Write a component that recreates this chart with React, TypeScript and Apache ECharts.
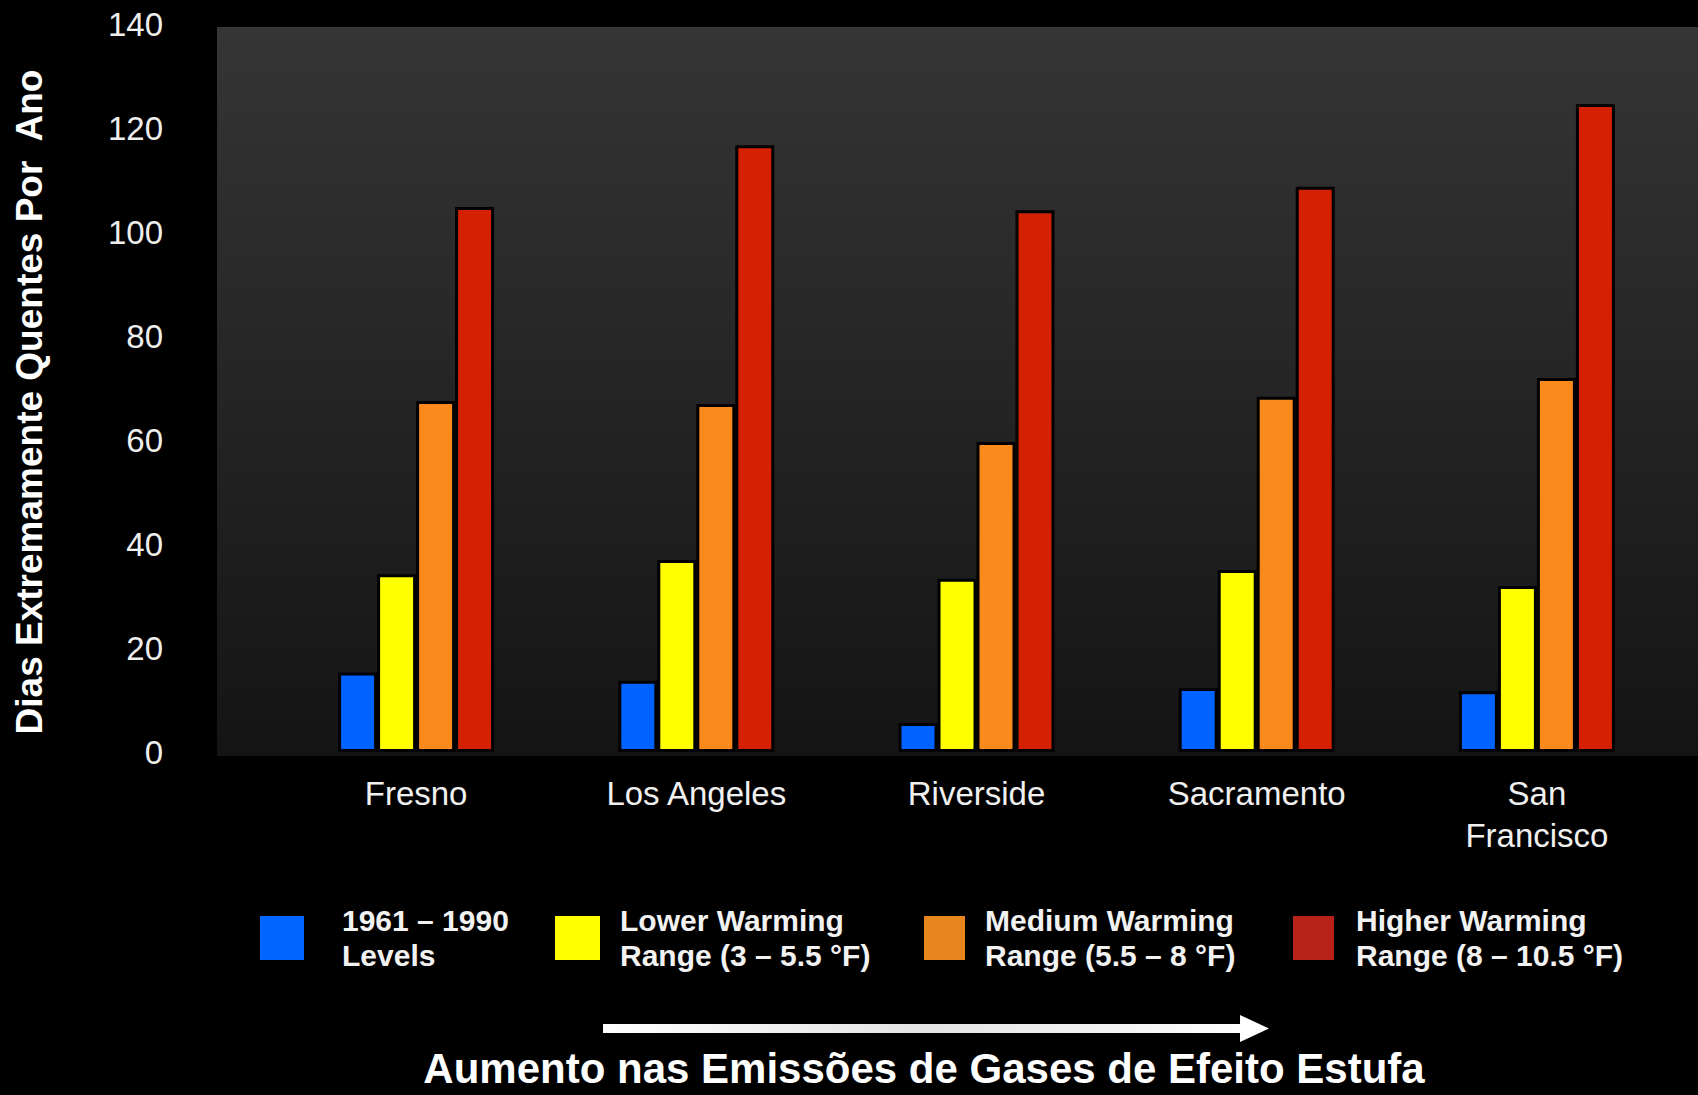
import React, { useEffect, useRef } from "react";
import * as echarts from "echarts";

const categories = ["Fresno", "Los Angeles", "Riverside", "Sacramento", "San\nFrancisco"];
const seriesNames = [
  "1961 – 1990\nLevels",
  "Lower Warming\nRange (3 – 5.5 °F)",
  "Medium Warming\nRange (5.5 – 8 °F)",
  "Higher Warming\nRange (8 – 10.5 °F)",
];
const baselineLevels = [15.3, 13.7, 5.6, 12.3, 11.7];
const lowerWarming = [34.2, 36.9, 33.3, 35.0, 31.9];
const mediumWarming = [67.5, 66.9, 59.6, 68.3, 71.9];
const higherWarming = [104.8, 116.7, 104.2, 108.7, 124.6];
const yTickValues = [0, 20, 40, 60, 80, 100, 120, 140];

const yAxisTitle = "Dias Extremamente Quentes Por  Ano";
const bottomTitle = "Aumento nas Emissões de Gases de Efeito Estufa";

const barColors = ["#0062ff", "#ffff00", "#fa8a1c", "#d42003"];
const legendColors = ["#0066ff", "#ffff00", "#e8861e", "#b82218"];

export default function App() {
  const ref = useRef<HTMLDivElement>(null);

  useEffect(() => {
    if (!ref.current) return;
    const chart = echarts.init(ref.current, undefined, { renderer: "svg" });
    const font = "'Liberation Sans', Arial, sans-serif";
    const values = [baselineLevels, lowerWarming, mediumWarming, higherWarming];

    const legendPos = [
      { left: 260, w: 44, pad: 33 },
      { left: 555, w: 45, pad: 15 },
      { left: 924, w: 41, pad: 15 },
      { left: 1293, w: 41, pad: 17 },
    ];

    chart.setOption({
      animation: false,
      backgroundColor: "#000000",
      grid: { left: 276, right: 21, top: 24, bottom: 343, containLabel: false },
      graphic: [
        {
          type: "rect",
          z: -10,
          silent: true,
          shape: { x: 217, y: 27, width: 1481, height: 729 },
          style: {
            fill: new echarts.graphic.LinearGradient(0, 0, 0, 1, [
              { offset: 0, color: "#353535" },
              { offset: 1, color: "#141414" },
            ]),
          },
        },
        {
          type: "text",
          x: 29,
          y: 402,
          rotation: Math.PI / 2,
          style: {
            text: yAxisTitle,
            fill: "#ffffff",
            font: `bold 37px ${font}`,
            align: "center",
            verticalAlign: "middle",
          },
        },
        {
          type: "rect",
          shape: { x: 603, y: 1024, width: 642, height: 9 },
          style: {
            fill: new echarts.graphic.LinearGradient(0, 0, 1, 0, [
              { offset: 0, color: "#ffffff" },
              { offset: 0.5, color: "#e4e4e4" },
              { offset: 1, color: "#ffffff" },
            ]),
          },
        },
        {
          type: "polygon",
          shape: { points: [[1240, 1015], [1269, 1028.5], [1240, 1042]] },
          style: { fill: "#ffffff" },
        },
        {
          type: "text",
          x: 924,
          y: 1089,
          style: {
            text: bottomTitle,
            fill: "#ffffff",
            font: `bold 42px ${font}`,
            align: "center",
            verticalAlign: "bottom",
          },
        },
      ],
      legend: seriesNames.map((name, i) => ({
        data: [{ name, itemStyle: { color: legendColors[i], borderWidth: 0 } }],
        left: legendPos[i].left,
        top: 903,
        padding: 0,
        selectedMode: false,
        icon: "rect",
        itemWidth: legendPos[i].w,
        itemHeight: 44,
        itemStyle: { borderWidth: 0 },
        textStyle: {
          color: "#f2f2f2",
          fontFamily: font,
          fontWeight: "bold",
          fontSize: 30,
          lineHeight: 35,
          padding: [0, 0, 0, legendPos[i].pad],
        },
      })),
      xAxis: {
        type: "category",
        data: categories,
        axisLine: { show: false },
        axisTick: { show: false },
        axisLabel: {
          color: "#f0f0f0",
          fontFamily: font,
          fontSize: 33,
          lineHeight: 42,
          margin: 20,
          interval: 0,
        },
      },
      yAxis: {
        type: "value",
        min: yTickValues[0],
        max: yTickValues[yTickValues.length - 1],
        interval: yTickValues[1] - yTickValues[0],
        axisLine: { show: false },
        axisTick: { show: false },
        splitLine: { show: false },
        axisLabel: {
          color: "#eeeeee",
          fontFamily: font,
          fontSize: 33,
          margin: 113,
        },
      },
      series: seriesNames.map((name, i) => ({
        name,
        type: "bar",
        data: values[i],
        barWidth: 39,
        barGap: "0%",
        itemStyle: { color: barColors[i], borderColor: "#000000", borderWidth: 3 },
      })),
    });

    return () => chart.dispose();
  }, []);

  return (
    <div
      ref={ref}
      style={{ position: "absolute", left: 0, top: 0, width: 1698, height: 1095, background: "#000" }}
    />
  );
}
